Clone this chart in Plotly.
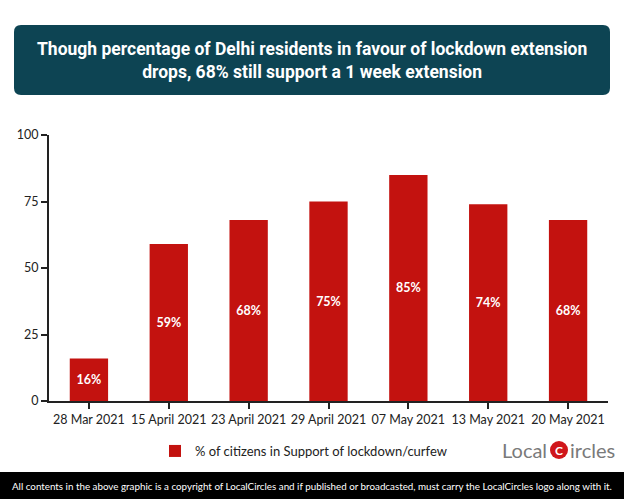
import plotly.graph_objects as go

categories = ["28 Mar 2021", "15 April 2021", "23 April 2021", "29 April 2021",
              "07 May 2021", "13 May 2021", "20 May 2021"]
values = [16, 59, 68, 75, 85, 74, 68]
labels = [f"{v}%" for v in values]
y_ticks = [0, 25, 50, 75, 100]
series_name = "% of citizens in Support of lockdown/curfew"
title_text = ("Though percentage of Delhi residents in favour of lockdown extension<br>"
              "drops, 68% still support a 1 week extension")
footer_text = ("All contents in the above graphic is a copyright of LocalCircles and if published "
               "or broadcasted, must carry the LocalCircles logo along with it.")

W, H = 624, 499
L, R, T, B = 49, 16, 135, 98
pw, ph = W - L - R, H - T - B

def px(x):
    return (x - L) / pw

def py(y):
    return (H - B - y) / ph

fig = go.Figure()
fig.add_trace(go.Bar(
    x=categories, y=values, name=series_name,
    marker=dict(color="#c3120f", line=dict(width=0)),
    width=0.48,
    text=labels, textposition="inside", insidetextanchor="middle",
    textfont=dict(family="Lato", size=12.5, color="white"),
    texttemplate="<b>%{text}</b>",
))

# Title box with rounded corners
x0, x1, y0, y1, r = 14, 610, 25, 95, 7
rx, ry = r / pw, r / ph
X0, X1, Y0, Y1 = px(x0), px(x1), py(y1), py(y0)
path = (f"M {X0+rx},{Y0} L {X1-rx},{Y0} Q {X1},{Y0} {X1},{Y0+ry} "
        f"L {X1},{Y1-ry} Q {X1},{Y1} {X1-rx},{Y1} L {X0+rx},{Y1} "
        f"Q {X0},{Y1} {X0},{Y1-ry} L {X0},{Y0+ry} Q {X0},{Y0} {X0+rx},{Y0} Z")
shapes = [
    dict(type="path", xref="paper", yref="paper", path=path,
         fillcolor="#0d4453", line=dict(width=0), layer="below"),
    dict(type="rect", xref="paper", yref="paper", x0=px(0), x1=px(W), y0=py(H), y1=py(472),
         fillcolor="#000000", line=dict(width=0)),
    dict(type="circle", xref="paper", yref="paper",
         x0=px(550), x1=px(568), y0=py(459), y1=py(441),
         fillcolor="#d0161b", line=dict(width=0)),
]

annotations = [
    dict(text=f"<b>{title_text}</b>", xref="paper", yref="paper", x=px(312), y=py(60),
         xanchor="center", yanchor="middle", showarrow=False,
         font=dict(family="Roboto", size=17.5, color="white")),
    dict(text=footer_text, xref="paper", yref="paper", x=px(312), y=py(486),
         xanchor="center", yanchor="middle", showarrow=False,
         font=dict(family="Lato", size=9.8, color="white")),
    dict(text="Local", xref="paper", yref="paper", x=px(549), y=py(450),
         xanchor="right", yanchor="middle", showarrow=False,
         font=dict(family="Lato", size=20, color="#7a7a7a")),
    dict(text="<b>C</b>", xref="paper", yref="paper", x=px(559), y=py(450),
         xanchor="center", yanchor="middle", showarrow=False,
         font=dict(family="Lato", size=12, color="white")),
    dict(text="ircles", xref="paper", yref="paper", x=px(568), y=py(450),
         xanchor="left", yanchor="middle", showarrow=False,
         font=dict(family="Lato", size=20, color="#7a7a7a")),
]

fig.update_layout(
    width=W, height=H,
    margin=dict(l=L, r=R, t=T, b=B, autoexpand=False),
    paper_bgcolor="white", plot_bgcolor="white",
    showlegend=True,
    legend=dict(orientation="h", x=px(155), y=py(451), xanchor="left", yanchor="middle",
                font=dict(family="Lato", size=13, color="#222222"),
                bgcolor="rgba(0,0,0,0)"),
    shapes=shapes, annotations=annotations,
    xaxis=dict(showline=True, linecolor="#222222", linewidth=2,
               ticks="outside", ticklen=6, tickcolor="#222222", tickwidth=1.5,
               tickfont=dict(family="Lato", size=12.5, color="#222222"),
               showgrid=False, range=[-0.5, 6.5], fixedrange=True),
    yaxis=dict(range=[0, 100], tickvals=y_ticks, showline=True, linecolor="#222222",
               linewidth=2, ticks="outside", ticklen=6, tickcolor="#222222", tickwidth=1.5,
               tickfont=dict(family="Lato", size=12.5, color="#222222"),
               showgrid=False, zeroline=False),
)

fig.write_html("out.html")
